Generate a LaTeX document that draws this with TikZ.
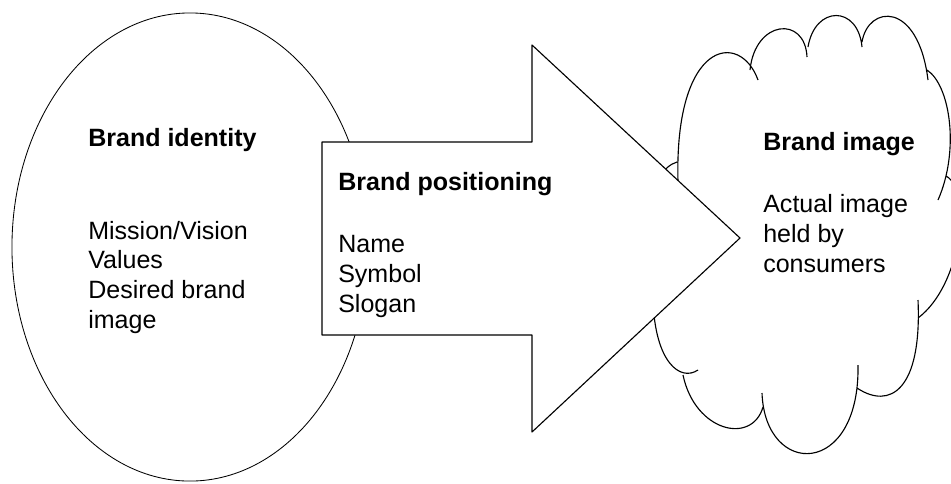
\documentclass[tikz,border=0pt]{standalone}
\usepackage{fontspec}
\setmainfont{Liberation Sans}

\begin{document}
\begin{tikzpicture}[x=0.025cm, y=-0.025cm, line join=round,
    font=\fontsize{17.8pt}{21pt}\selectfont,
    head/.style={anchor=base west, inner sep=0pt, font=\fontsize{17.8pt}{21pt}\selectfont\bfseries},
    body/.style={anchor=base west, inner sep=0pt, align=left}]
    \useasboundingbox[fill=white] (0,0) rectangle (951,483);

    % Ellipse
    \draw[line width=0.6pt] (190,247) ellipse [x radius=4.45cm, y radius=5.85cm];

    % Wolke
    \draw[line width=0.8pt]
      (678,182) .. controls (674,40) and (740,30) .. (758,80)
      (750,70) .. controls (755,20) and (805,15) .. (807,57)
      (808,47) .. controls (815,5) and (858,5) .. (862,47)
      (862,42) .. controls (868,5) and (918,0) .. (928,80)
      (927,70) .. controls (950,85) and (960,150) .. (938,200)
      (946,176) .. controls (972,190) and (962,285) .. (918,318)
      (918,300) .. controls (922,390) and (890,410) .. (857,388)
      (858,365) .. controls (860,478) and (765,478) .. (762,393)
      (763,407) .. controls (752,445) and (695,432) .. (683,375)
      (698,370) .. controls (680,382) and (655,362) .. (653,300)
        .. controls (635,230) and (650,170) .. (677,162);

    % Pfeil
    \draw[line width=0.8pt, fill=white]
      (322,142) -- (532,142) -- (532,45) -- (740,238)
      -- (532,432) -- (532,335) -- (322,335) -- cycle;

    % Texte (base = Grundlinie der letzten Zeile)
    \node[head] (identity) at (88,146) {Brand identity};
    \node[body] (identity-list) at (88,328) {Mission/Vision\\Values\\Desired brand\\image};

    \node[head] (positioning) at (338,190) {Brand positioning};
    \node[body] (positioning-list) at (338,312) {Name\\Symbol\\Slogan};

    \node[head] (image) at (763,150) {Brand image};
    \node[body] (image-list) at (763,272) {Actual image\\held by\\consumers};

\end{tikzpicture}
\end{document}
